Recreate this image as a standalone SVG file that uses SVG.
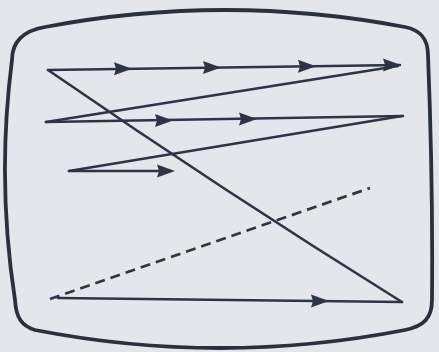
<svg xmlns="http://www.w3.org/2000/svg" xmlns:xlink="http://www.w3.org/1999/xlink" width="439" height="352" viewBox="0 0 439 352">
  <style>
    .screen { fill: none; stroke: #2a303c; stroke-width: 3.8; stroke-linejoin: round; }
    .scan { fill: none; stroke: #2e3446; stroke-width: 2.6; stroke-linecap: round; }
    .dash { fill: none; stroke: #2e3446; stroke-width: 2.7; stroke-dasharray: 10 6; }
    .head { fill: #2e3446; }
  </style>
  <defs>
    <path id="ah" d="M0,0 L-18,-6.5 L-16,0 L-18,6.5 Z"/>
  </defs>
  <rect width="439" height="352" fill="#e5e6ec"/>
  <g id="screen">
    <path class="screen" d="M12,60 C12,42 22,31 45,27 Q225,-7 405,27 C420,30 428,38 428,55 Q433,180 432,300 C432,318 424,326 405,330 Q220,366 35,330 C22,326 16,318 15,300 Q-3.5,180 12,60 Z"/>
  </g>
  <g id="connectors">
    <path class="scan" d="M48,70 L400,65"/>
    <path class="scan" d="M398,66 L46,122"/>
    <path class="scan" d="M46,122 L403,116"/>
    <path class="scan" d="M402,116 L69,171"/>
    <path class="scan" d="M69,171 L170,171"/>
    <path class="scan" d="M48,70 Q225,192 402,302"/>
    <path class="dash" d="M50,299 L370,188"/>
    <path class="scan" d="M58,298 L402,302"/>
    <g class="head">
      <use xlink:href="#ah" transform="translate(132,68.8)"/>
      <use xlink:href="#ah" transform="translate(221,67.5)"/>
      <use xlink:href="#ah" transform="translate(316,66.2)"/>
      <use xlink:href="#ah" transform="translate(401,65)"/>
      <use xlink:href="#ah" transform="translate(173,120.5)"/>
      <use xlink:href="#ah" transform="translate(257,119)"/>
      <use xlink:href="#ah" transform="translate(175,171)"/>
      <use xlink:href="#ah" transform="translate(329,301)"/>
    </g>
  </g>
</svg>
